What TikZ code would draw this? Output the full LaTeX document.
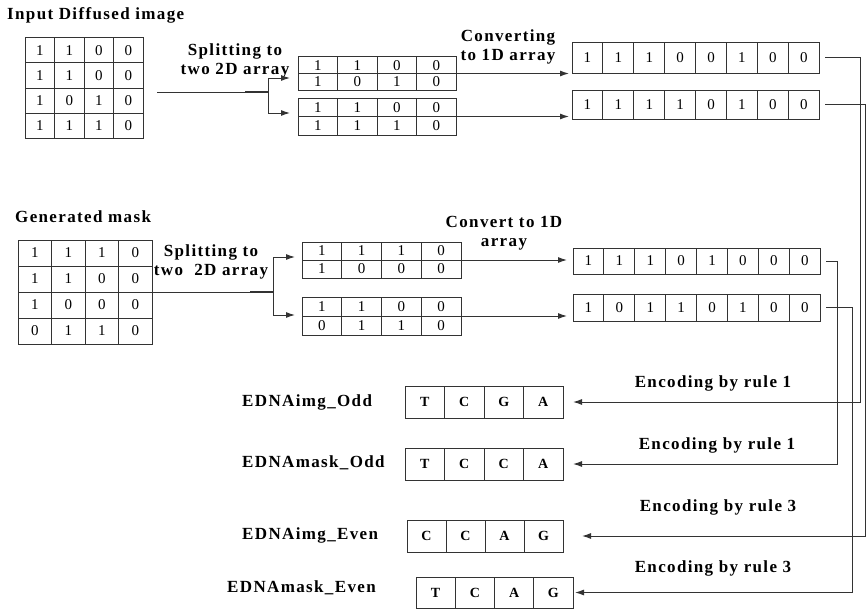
\documentclass[tikz,border=0pt]{standalone}
\usepackage{fontspec}
\setmainfont{Liberation Serif}
\newfontfamily\lblfont[LetterSpace=8]{Liberation Serif}
\usetikzlibrary{arrows.meta}

% one row of boxed cells: [style]{name}{x}{y}{cell width}{cell height}{values}
\newcommand\cellrow[7][cell]{%
  \foreach \v [count=\i] in {#7}
    \node[#1, minimum width=#5pt, minimum height=#6pt, xshift={(\i-1)*#5pt}] (#2-\i) at (#3,#4) {\v};%
}

\tikzset{
  cell/.style={draw=black!80, line width=1pt, anchor=north west, inner sep=0pt, outer sep=0pt,
    font=\fontsize{15}{17}\selectfont},
  dna/.style={cell, font=\bfseries\fontsize{14}{16}\selectfont},
  lbl/.style={font=\lblfont\bfseries\fontsize{17}{19}\selectfont, inner sep=0pt},
  wire/.style={draw=black!80, line width=1pt},
  arr/.style={wire, -{Latex[length=9pt,width=6pt]}},
}

\begin{document}
\begin{tikzpicture}[x=1pt,y=-1pt]
  \useasboundingbox (0,0) rectangle (867,610);
  % --- Input Diffused image ---
  \node[lbl, anchor=west] (imgTitle) at (7,15) {Input Diffused image};
  \cellrow{imgG1}{25}{38}{29.5}{25}{1,1,0,0}
  \cellrow{imgG2}{25}{63}{29.5}{25}{1,1,0,0}
  \cellrow{imgG3}{25}{88}{29.5}{25}{1,0,1,0}
  \cellrow{imgG4}{25}{113}{29.5}{25}{1,1,1,0}
  \node[lbl, align=center] (imgSplit) at (235,61) {Splitting to\\two 2D array};
  \coordinate (imgJ) at (268,92);
  \draw[wire, shorten <=14pt] ([yshift=-4pt]imgG2-4.south east) -- (imgJ);
  \draw[line width=1.6pt, black!80] ([xshift=-23pt]imgJ) -- (imgJ);
  % two 2D arrays
  \cellrow{imgT1}{298}{57}{39.5}{16.5}{1,1,0,0}
  \cellrow{imgT2}{298}{73.5}{39.5}{16.5}{1,0,1,0}
  \cellrow{imgB1}{298}{98}{39.5}{18.5}{1,1,0,0}
  \cellrow{imgB2}{298}{116.5}{39.5}{18.5}{1,1,1,0}
  \draw[arr, shorten >=8pt] (imgJ) |- ([yshift=-4.5pt]imgT1-1.south west);
  \draw[arr, shorten >=8pt] (imgJ) |- ([yshift=3.5pt]imgB1-1.south west);
  \node[lbl, align=center] (imgConv) at (508,47) {Converting\\to 1D array};
  % 1D arrays
  \cellrow{img1a}{572}{43}{30.9}{30}{1,1,1,0,0,1,0,0}
  \cellrow{img1b}{572}{90}{30.9}{29}{1,1,1,1,0,1,0,0}
  \draw[arr, shorten >=3pt] (imgT1-4.south east) -- (imgT1-4.south east -| img1a-1.west);
  \draw[arr, shorten >=3pt] (imgB1-4.south east) -- (imgB1-4.south east -| img1b-1.west);

  % --- Generated mask ---
  \node[lbl, anchor=west] (maskTitle) at (15,217) {Generated mask};
  \cellrow{maskG1}{18}{240}{33.5}{26}{1,1,1,0}
  \cellrow{maskG2}{18}{266}{33.5}{26}{1,1,0,0}
  \cellrow{maskG3}{18}{292}{33.5}{26}{1,0,0,0}
  \cellrow{maskG4}{18}{318}{33.5}{26}{0,1,1,0}
  \node[lbl, align=center] (maskSplit) at (211,262) {Splitting to\\two~ 2D array};
  \coordinate (maskJ) at (273,292);
  \draw[wire] (maskG2-4.south east) -- (maskJ);
  \draw[line width=1.6pt, black!80] ([xshift=-23pt]maskJ) -- (maskJ);
  % two 2D arrays
  \cellrow{maskT1}{302}{242}{39.75}{18}{1,1,1,0}
  \cellrow{maskT2}{302}{260}{39.75}{18}{1,0,0,0}
  \cellrow{maskB1}{302}{297}{39.75}{19}{1,1,0,0}
  \cellrow{maskB2}{302}{316}{39.75}{19}{0,1,1,0}
  \draw[arr, shorten >=7pt] (maskJ) |- ([yshift=3pt]maskT1-1.south west);
  \draw[arr, shorten >=7pt] (maskJ) |- ([yshift=1pt]maskB1-1.south west);
  \node[lbl, align=center] (maskConv) at (504,233) {Convert to 1D\\array};
  % 1D arrays
  \cellrow{mask1a}{573}{248}{30.9}{26}{1,1,1,0,1,0,0,0}
  \cellrow{mask1b}{573}{294}{30.9}{27}{1,0,1,1,0,1,0,0}
  \draw[arr, shorten >=6pt] (maskT1-4.south east) -- (maskT1-4.south east -| mask1a-1.west);
  \draw[arr, shorten >=6pt] (maskB1-4.south east) -- (maskB1-4.south east -| mask1b-1.west);

  % --- encoded DNA ---
  \node[lbl, anchor=west] (oddImgLbl) at (242,402) {EDNAimg\_Odd};
  \node[lbl, anchor=west] (oddMaskLbl) at (242,463) {EDNAmask\_Odd};
  \node[lbl, anchor=west] (evenImgLbl) at (242,535) {EDNAimg\_Even};
  \node[lbl, anchor=west] (evenMaskLbl) at (227,588) {EDNAmask\_Even};
  \cellrow[dna]{oddImg}{405}{386}{39.5}{32}{T,C,G,A}
  \cellrow[dna]{oddMask}{405}{448}{39.5}{32}{T,C,C,A}
  \cellrow[dna]{evenImg}{407}{520}{39}{32}{C,C,A,G}
  \cellrow[dna]{evenMask}{416}{577}{39.25}{31}{T,C,A,G}
  \node[lbl] (encA) at (713,383) {Encoding by rule 1};
  \node[lbl] (encB) at (717,445) {Encoding by rule 1};
  \node[lbl] (encC) at (718,507) {Encoding by rule 3};
  \node[lbl] (encD) at (713,568) {Encoding by rule 3};
  % rails on the right
  \coordinate (railA) at (860,0);
  \coordinate (railB) at (865.5,0);
  \coordinate (railC) at (837,0);
  \coordinate (railD) at (852,0);
  \draw[arr, shorten <=6pt, shorten >=10pt] (img1a-8.east) -- (img1a-8.east -| railA) |- (oddImg-4.east);
  \draw[arr, shorten <=6pt, shorten >=19pt] (img1b-8.east) -- (img1b-8.east -| railB) |- (evenImg-4.east);
  \draw[arr, shorten <=6pt, shorten >=10pt] (mask1a-8.east) -- (mask1a-8.east -| railC) |- (oddMask-4.east);
  \draw[arr, shorten <=6pt, shorten >=2pt] (mask1b-8.east) -- (mask1b-8.east -| railD) |- (evenMask-4.east);
\end{tikzpicture}
\end{document}
